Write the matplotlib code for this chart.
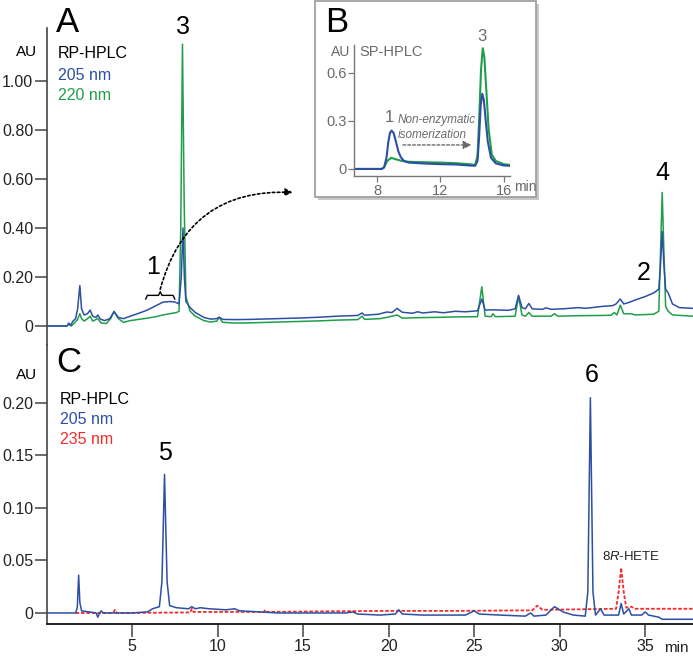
import matplotlib
matplotlib.use('Agg')
import matplotlib.pyplot as plt
import matplotlib.patches as patches

plt.rcParams['font.family'] = ['Liberation Sans', 'DejaVu Sans']
plt.rcParams['mathtext.fontset'] = 'custom'
plt.rcParams['mathtext.rm'] = 'Liberation Sans'
plt.rcParams['mathtext.it'] = 'Liberation Sans:italic'

BLUE = '#2c4fa3'
GREEN = '#1f9e4a'
RED = '#f42a2a'
GRAY = '#6a6a6a'

# panel A, RP-HPLC (time min, AU)
a_205 = [(0, 0), (1.2, 0), (1.3, 0.012), (1.4, 0.002), (1.55, 0.02), (1.7, 0.03), (1.82, 0.07),
         (1.95, 0.165), (2.05, 0.07), (2.2, 0.045), (2.4, 0.05), (2.55, 0.065), (2.7, 0.04),
         (2.9, 0.035), (3.0, 0.045), (3.15, 0.028), (3.4, 0.022), (3.7, 0.03), (3.95, 0.058),
         (4.2, 0.035), (4.5, 0.03), (4.9, 0.04), (5.4, 0.052), (5.9, 0.065), (6.4, 0.083),
         (6.8, 0.097), (7.2, 0.1), (7.5, 0.098), (7.75, 0.09), (7.88, 0.2), (7.98, 0.40),
         (8.06, 0.2), (8.15, 0.1), (8.4, 0.075), (8.7, 0.055), (9.2, 0.035), (9.6, 0.028),
         (9.95, 0.03), (10.1, 0.036), (10.3, 0.027), (11, 0.026), (12, 0.027), (13, 0.029),
         (14, 0.031), (15, 0.033), (16, 0.036), (17, 0.04), (18.2, 0.043), (18.45, 0.053),
         (18.6, 0.044), (19.4, 0.048), (19.9, 0.057), (20.2, 0.055), (20.5, 0.072), (20.8, 0.056),
         (21.4, 0.052), (21.7, 0.058), (22.0, 0.053), (22.7, 0.058), (23.2, 0.054), (23.9, 0.06),
         (24.5, 0.058), (25.2, 0.062), (25.45, 0.11), (25.65, 0.065), (26.1, 0.066), (27.0, 0.064),
         (27.4, 0.07), (27.6, 0.125), (27.8, 0.075), (28.0, 0.07), (28.2, 0.092), (28.4, 0.07),
         (29.0, 0.068), (29.2, 0.074), (29.5, 0.068), (30.2, 0.07), (31.1, 0.075), (31.5, 0.072),
         (32.5, 0.08), (33.1, 0.083), (33.3, 0.09), (33.55, 0.11), (33.75, 0.09), (34.0, 0.095),
         (34.5, 0.108), (35.0, 0.12), (35.5, 0.135), (35.8, 0.15), (35.9, 0.25), (36.0, 0.385),
         (36.1, 0.25), (36.2, 0.15), (36.35, 0.135), (36.6, 0.09), (37.0, 0.075), (37.8, 0.072)]
a_220 = [(0, 0), (1.2, 0), (1.3, 0.008), (1.45, 0.0), (1.6, 0.01), (1.8, 0.025), (1.95, 0.05),
         (2.05, 0.03), (2.2, 0.02), (2.4, 0.03), (2.55, 0.04), (2.7, 0.02), (3.0, 0.03), (3.2, 0.012),
         (3.5, 0.01), (3.75, 0.03), (3.95, 0.06), (4.2, 0.03), (4.5, 0.015), (4.9, 0.022),
         (5.4, 0.027), (5.9, 0.032), (6.4, 0.038), (6.8, 0.045), (7.2, 0.05), (7.6, 0.055),
         (7.75, 0.06), (7.85, 0.4), (7.95, 1.15), (8.05, 0.5), (8.15, 0.12), (8.4, 0.06),
         (8.7, 0.04), (9.2, 0.022), (9.6, 0.016), (9.95, 0.02), (10.1, 0.035), (10.3, 0.015),
         (11, 0.012), (12, 0.013), (13, 0.015), (14, 0.017), (15, 0.019), (16, 0.021), (17, 0.024),
         (18.2, 0.026), (18.45, 0.04), (18.6, 0.027), (19.5, 0.03), (19.9, 0.035), (20.5, 0.045),
         (20.8, 0.032), (21.7, 0.034), (22.7, 0.035), (23.9, 0.037), (25.2, 0.038), (25.45, 0.16),
         (25.65, 0.04), (26.0, 0.038), (26.1, 0.05), (26.25, 0.038), (27.4, 0.04), (27.6, 0.12),
         (27.8, 0.045), (28.0, 0.04), (28.2, 0.055), (28.4, 0.04), (29.5, 0.04), (29.7, 0.05),
         (29.9, 0.04), (31.1, 0.042), (32.5, 0.043), (33.0, 0.044), (33.2, 0.055), (33.35, 0.045),
         (33.55, 0.085), (33.75, 0.05), (34.2, 0.05), (34.4, 0.045), (35.5, 0.048), (35.8, 0.06),
         (35.9, 0.3), (36.0, 0.545), (36.1, 0.3), (36.2, 0.08), (36.35, 0.06), (36.6, 0.045),
         (37.8, 0.04)]

# panel B inset, SP-HPLC
b_205 = [(6.55, 0.0), (8.3, 0.0), (8.45, 0.01), (8.6, 0.07), (8.72, 0.17), (8.82, 0.225),
         (8.92, 0.24), (9.05, 0.225), (9.2, 0.17), (9.35, 0.11), (9.5, 0.075), (9.7, 0.05),
         (10.0, 0.04), (11, 0.034), (12, 0.03), (13, 0.028), (13.8, 0.022), (14.2, 0.02),
         (14.35, 0.05), (14.45, 0.2), (14.55, 0.4), (14.65, 0.47), (14.75, 0.43), (14.85, 0.32),
         (15.0, 0.17), (15.2, 0.07), (15.5, 0.035), (16.0, 0.022), (16.4, 0.02)]
b_220 = [(6.55, 0.0), (8.3, 0.0), (8.45, 0.01), (8.65, 0.05), (8.9, 0.07), (9.2, 0.06), (9.6, 0.05),
         (10.0, 0.045), (11, 0.042), (12, 0.04), (13, 0.036), (13.8, 0.03), (14.2, 0.025),
         (14.35, 0.08), (14.45, 0.3), (14.57, 0.62), (14.68, 0.755), (14.78, 0.7), (14.9, 0.5),
         (15.05, 0.25), (15.25, 0.09), (15.5, 0.05), (16.0, 0.03), (16.4, 0.025)]

# panel C, RP-HPLC
c_205 = [(0, 0), (1.7, 0), (1.8, 0.005), (1.88, 0.036), (1.95, 0.01), (2.05, 0.002), (2.5, 0.001),
         (2.9, 0), (3.0, -0.004), (3.1, 0.0), (3.2, 0.002), (3.3, 0), (5, 0), (5.9, 0.001),
         (6.2, 0.004), (6.6, 0.006), (6.75, 0.03), (6.9, 0.132), (7.05, 0.03), (7.2, 0.007),
         (7.6, 0.005), (8.3, 0.004), (8.5, 0.006), (8.7, 0.004), (9.0, 0.005), (9.5, 0.004),
         (10.5, 0.003), (11.0, 0.004), (11.3, 0.002), (12.5, 0.001), (13.5, 0.0), (17.5, 0.0),
         (17.9, 0.001), (18.2, -0.001), (19.5, -0.002), (20.4, -0.001), (20.6, 0.003),
         (20.8, -0.001), (22, -0.002), (24.5, -0.002), (25.0, 0.002), (25.3, -0.001),
         (26.5, -0.002), (28.0, -0.003), (28.3, 0.0), (28.5, -0.003), (29.2, -0.002),
         (29.7, 0.006), (30.2, 0.001), (30.8, -0.002), (31.5, -0.003), (31.65, 0.02),
         (31.8, 0.205), (31.95, 0.02), (32.1, -0.002), (32.4, 0.004), (32.6, -0.002),
         (33.45, -0.002), (33.6, 0.009), (33.75, -0.001), (34.05, 0.004), (34.2, -0.002),
         (34.8, -0.002), (35.0, 0.001), (35.2, -0.002), (35.8, -0.004), (36.0, -0.006),
         (37.8, -0.006)]
c_235 = [(1.7, 0), (3.9, 0), (4.0, 0.003), (4.1, 0), (8.4, 0.0005), (8.5, 0.004), (8.6, 0.001),
         (12.7, 0.001), (12.8, 0.003), (12.9, 0.001), (16, 0.0015), (20, 0.002), (24, 0.002),
         (28.4, 0.0025), (28.7, 0.007), (29.0, 0.003), (33.3, 0.004), (33.45, 0.02), (33.6, 0.043),
         (33.75, 0.02), (33.9, 0.005), (34.2, 0.006), (34.4, 0.004), (37.8, 0.004)]

a_ticks = [0, 0.2, 0.4, 0.6, 0.8, 1.0]
a_labels = ['0', '0.20', '0.40', '0.60', '0.80', '1.00']
c_ticks = [0, 0.05, 0.10, 0.15, 0.20]
c_labels = ['0', '0.05', '0.10', '0.15', '0.20']
x_ticks = [5, 10, 15, 20, 25, 30, 35]
b_yticks = [0, 0.3, 0.6]
b_ylabels = ['0', '0.3', '0.6']
b_xticks = [8, 12, 16]

W, H = 693, 656


def fx(px):
    return px / W


def fy(py):
    return 1 - py / H


def xy(points):
    return [p[0] for p in points], [p[1] for p in points]


fig = plt.figure(figsize=(W / 100, H / 100), dpi=100)
axA = fig.add_axes([fx(46.5), fy(345), 1 - fx(46.5), fy(28) - fy(345)])
axC = fig.add_axes([fx(46.5), fy(624), 1 - fx(46.5), fy(345) - fy(624)])

for ax in (axA, axC):
    ax.set_xlim(0, 37.8)
    for s in ('top', 'right'):
        ax.spines[s].set_visible(False)
    ax.spines['left'].set_color('#444')
    ax.spines['left'].set_linewidth(1.2)
    ax.tick_params(axis='y', direction='out', length=8.5, width=1.1, color='#444',
                   labelsize=11.5, pad=1, labelcolor='#222')

axA.spines['bottom'].set_visible(False)
axA.set_xticks([])
axA.set_ylim(-0.0776, 1.2163)
axA.set_yticks(a_ticks)
axA.set_yticklabels(a_labels)

axC.set_ylim(-0.0105, 0.2552)
axC.set_yticks(c_ticks)
axC.set_yticklabels(c_labels)
axC.spines['bottom'].set_color('#222')
axC.spines['bottom'].set_linewidth(1.4)
axC.set_xticks(x_ticks)
axC.tick_params(axis='x', direction='out', length=9.5, width=1.1, color='#444',
                labelsize=11.5, pad=1, labelcolor='#222')

# traces
t, v = xy(a_220)
axA.plot(t, v, color=GREEN, lw=1.1)
t, v = xy(a_205)
axA.plot(t, v, color=BLUE, lw=1.1)
t, v = xy(c_235)
axC.plot(t, v, color=RED, lw=1.3, ls=(0, (2, 1)))
t, v = xy(c_205)
axC.plot(t, v, color=BLUE, lw=1.1)

# panel A text
fig.text(fx(56), fy(22), 'A', fontsize=25, va='center', ha='left')
fig.text(fx(37), fy(52), 'AU', fontsize=11, va='center', ha='right')
fig.text(fx(58), fy(53), 'RP-HPLC', fontsize=11.5, va='center', ha='left')
fig.text(fx(58), fy(75), '205 nm', fontsize=11.5, va='center', ha='left', color=BLUE)
fig.text(fx(58), fy(96), '220 nm', fontsize=11.5, va='center', ha='left', color=GREEN)
axA.text(8.0, 1.22, '3', fontsize=18, ha='center', va='center', clip_on=False)
axA.text(6.23, 0.24, '1', fontsize=18, ha='center', va='center')
axA.text(34.9, 0.216, '2', fontsize=18, ha='center', va='center')
axA.text(36.0, 0.625, '4', fontsize=18, ha='center', va='center')

# brace under peak 1
axA.plot([5.8, 5.9, 6.55, 6.65, 6.75, 7.4, 7.5],
         [0.11, 0.125, 0.125, 0.14, 0.125, 0.125, 0.11], color='k', lw=1.0)
axA.annotate('', xy=(14.4, 0.545), xytext=(6.65, 0.15),
             arrowprops=dict(arrowstyle='-|>', connectionstyle='arc3,rad=-0.4',
                             linestyle=(0, (1.5, 1.5)), lw=1.2, color='k',
                             mutation_scale=11, shrinkA=0, shrinkB=0))

# panel C text
fig.text(fx(56), fy(363), 'C', fontsize=25, va='center', ha='left')
fig.text(fx(37), fy(375), 'AU', fontsize=11, va='center', ha='right')
fig.text(fx(60), fy(399), 'RP-HPLC', fontsize=11.5, va='center', ha='left')
fig.text(fx(60), fy(419), '205 nm', fontsize=11.5, va='center', ha='left', color=BLUE)
fig.text(fx(60), fy(439), '235 nm', fontsize=11.5, va='center', ha='left', color=RED)
axC.text(6.9, 0.152, '5', fontsize=18, ha='center', va='center')
axC.text(31.9, 0.227, '6', fontsize=18, ha='center', va='center')
axC.text(34.2, 0.054, '8$\\it{R}$-HETE', fontsize=9.5, ha='center', va='center', color='#222')
fig.text(fx(664), fy(648), 'min', fontsize=11, va='center', ha='left', color='#222')

# inset B frame with shadow
shadow = patches.Rectangle((fx(318), fy(200)), fx(539) - fx(318), fy(4) - fy(200),
                           transform=fig.transFigure, facecolor='#c8c8c8', edgecolor='none',
                           zorder=1)
frame = patches.Rectangle((fx(315), fy(197)), fx(536) - fx(315), fy(1) - fy(197),
                          transform=fig.transFigure, facecolor='white', edgecolor='#9a9a9a',
                          lw=1.2, zorder=1.1)
fig.patches.extend([shadow, frame])

axB = fig.add_axes([fx(354), fy(176), fx(510) - fx(354), fy(45) - fy(176)], zorder=2)
axB.patch.set_alpha(0)
axB.set_xlim(6.55, 16.4)
axB.set_ylim(-0.044, 0.775)
for s in ('top', 'right'):
    axB.spines[s].set_visible(False)
for s in ('left', 'bottom'):
    axB.spines[s].set_color('#777')
    axB.spines[s].set_linewidth(1.0)
axB.set_yticks(b_yticks)
axB.set_yticklabels(b_ylabels)
axB.set_xticks(b_xticks)
axB.tick_params(direction='out', length=4, width=0.9, color='#777', labelsize=10.5,
                labelcolor=GRAY, pad=1.5)
t, v = xy(b_220)
axB.plot(t, v, color=GREEN, lw=1.5)
t, v = xy(b_205)
axB.plot(t, v, color=BLUE, lw=1.5)

fig.text(fx(325), fy(22), 'B', fontsize=25, va='center', ha='left', zorder=3)
axB.text(6.35, 0.73, 'AU', fontsize=10, ha='right', va='center', color=GRAY, clip_on=False)
axB.text(6.9, 0.73, 'SP-HPLC', fontsize=10.5, ha='left', va='center', color=GRAY)
axB.text(14.65, 0.83, '3', fontsize=12, ha='center', va='center', color=GRAY, clip_on=False)
axB.text(8.8, 0.32, '1', fontsize=12, ha='center', va='center', color=GRAY)
axB.text(9.3, 0.305, 'Non-enzymatic', fontsize=8.5, style='italic', ha='left', va='center',
         color=GRAY)
axB.text(9.34, 0.215, 'isomerization', fontsize=8.5, style='italic', ha='left', va='center',
         color=GRAY)
axB.annotate('', xy=(13.97, 0.15), xytext=(9.64, 0.15),
             arrowprops=dict(arrowstyle='-|>', linestyle=(0, (2, 1.5)), lw=1.0, color=GRAY,
                             mutation_scale=12, shrinkA=0, shrinkB=0))
fig.text(fx(514), fy(187), 'min', fontsize=10, va='center', ha='left', color=GRAY, zorder=3)

plt.savefig('out.png', dpi=100)
